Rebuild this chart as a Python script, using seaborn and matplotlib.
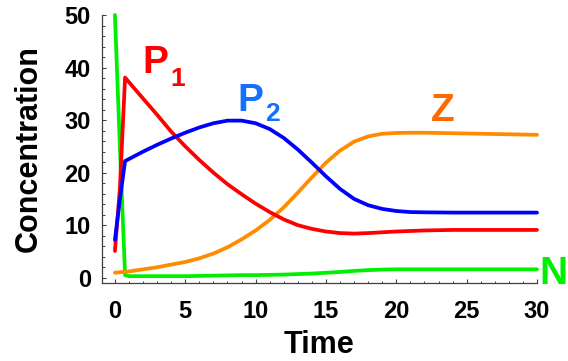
import numpy as np
import pandas as pd
import matplotlib
matplotlib.use("Agg")
import matplotlib.pyplot as plt
from matplotlib.ticker import MultipleLocator
import seaborn as sns

# Model output sampled over time
time = [0, 0.35, 0.72, 1, 2, 3, 4, 5, 6, 7, 8, 9, 10, 11, 12, 13, 14, 15,
        16, 17, 18, 19, 20, 21, 22, 24, 26, 28, 30]
p1 = [5.1, 17.0, 38.1, 37.2, 34.1, 31.0, 27.8, 25.0, 22.4, 20.0, 17.8, 15.9,
      14.1, 12.5, 11.1, 10.0, 9.3, 8.8, 8.5, 8.4, 8.5, 8.65, 8.8, 8.9, 9.0,
      9.1, 9.1, 9.1, 9.1]
p2 = [7.2, 14.9, 22.2, 22.6, 24.0, 25.3, 26.5, 27.6, 28.6, 29.4, 29.9, 29.9,
      29.4, 28.3, 26.6, 24.4, 21.9, 19.3, 16.9, 15.0, 13.8, 13.1, 12.7, 12.5,
      12.45, 12.4, 12.4, 12.4, 12.4]
z = [0.95, 1.05, 1.1, 1.2, 1.6, 2.0, 2.5, 3.0, 3.7, 4.6, 5.8, 7.3, 9.0, 11.0,
     13.4, 16.2, 19.1, 21.9, 24.2, 25.9, 26.9, 27.4, 27.55, 27.6, 27.6, 27.5,
     27.4, 27.3, 27.2]
n = [50.0, 25.0, 0.5, 0.3, 0.3, 0.3, 0.3, 0.3, 0.35, 0.4, 0.45, 0.5, 0.5,
     0.55, 0.6, 0.7, 0.8, 0.95, 1.1, 1.3, 1.45, 1.55, 1.6, 1.6, 1.6, 1.6,
     1.6, 1.6, 1.6]

species = ["P1", "P2", "Z", "N"]
line_colors = {"P1": "#FF0000", "P2": "#0000FF", "Z": "#FF8C00", "N": "#00F000"}
label_colors = {"P1": "#FF0000", "P2": "#1470FF", "Z": "#FF6A00", "N": "#00F000"}

df = pd.concat([
    pd.DataFrame({"Time": time, "Concentration": vals, "species": name})
    for name, vals in zip(species, [p1, p2, z, n])
], ignore_index=True)

sns.set_style("ticks")
plt.rcParams["font.family"] = ["Liberation Sans", "DejaVu Sans"]
plt.rcParams["font.weight"] = "bold"
plt.rcParams["text.color"] = "black"
plt.rcParams["axes.labelcolor"] = "black"
plt.rcParams["xtick.labelcolor"] = "black"
plt.rcParams["ytick.labelcolor"] = "black"

fig = plt.figure(figsize=(5.68, 3.61), dpi=100)
ax = fig.add_axes([102 / 568, 1 - 283 / 361, 435 / 568, 268 / 361])

sns.lineplot(data=df, x="Time", y="Concentration", hue="species",
             hue_order=["N", "Z", "P1", "P2"], palette=line_colors,
             linewidth=2.7, legend=False, ax=ax, sort=False, clip_on=False)
for ln in ax.lines:
    ln.set_solid_capstyle("round")
    ln.set_solid_joinstyle("round")

ax.set_xlim(-0.92, 30)
ax.set_ylim(-1.0, 50)
ax.xaxis.set_major_locator(MultipleLocator(5))
ax.xaxis.set_minor_locator(MultipleLocator(1))
ax.yaxis.set_major_locator(MultipleLocator(10))
ax.yaxis.set_minor_locator(MultipleLocator(2))

for side in ("top", "right"):
    ax.spines[side].set_visible(False)
for side in ("left", "bottom"):
    ax.spines[side].set_color("#404040")
    ax.spines[side].set_linewidth(0.9)

ax.tick_params(which="major", direction="in", length=3.2, width=0.8,
               color="#404040", labelsize=17, labelcolor="black")
ax.tick_params(which="minor", direction="in", length=1.8, width=0.7,
               color="#404040")
ax.tick_params(axis="y", which="major", pad=8)
ax.tick_params(axis="x", which="major", pad=12)
for lab in ax.get_xticklabels() + ax.get_yticklabels():
    lab.set_fontweight("bold")

ax.set_xlabel("Time", fontsize=22, fontweight="bold", labelpad=5,
              color="black")
ax.set_ylabel("Concentration", fontsize=22, fontweight="bold", labelpad=15,
              color="black")

# Curve names
big, small = 28, 19
ax.text(1.92, 39.05, "P", color=label_colors["P1"], fontsize=big,
        fontweight="bold", va="baseline", ha="left")
ax.text(3.91, 36.5, "1", color=label_colors["P1"], fontsize=small,
        fontweight="bold", va="baseline", ha="left")
ax.text(8.67, 31.7, "P", color=label_colors["P2"], fontsize=big,
        fontweight="bold", va="baseline", ha="left")
ax.text(10.66, 29.8, "2", color=label_colors["P2"], fontsize=small,
        fontweight="bold", va="baseline", ha="left")
ax.text(22.46, 29.8, "Z", color=label_colors["Z"], fontsize=big,
        fontweight="bold", va="baseline", ha="left")
ax.text(30.2, -1.1, "N", color=label_colors["N"], fontsize=big,
        fontweight="bold", va="baseline", ha="left", clip_on=False)

fig.savefig("out.png", dpi=100)
